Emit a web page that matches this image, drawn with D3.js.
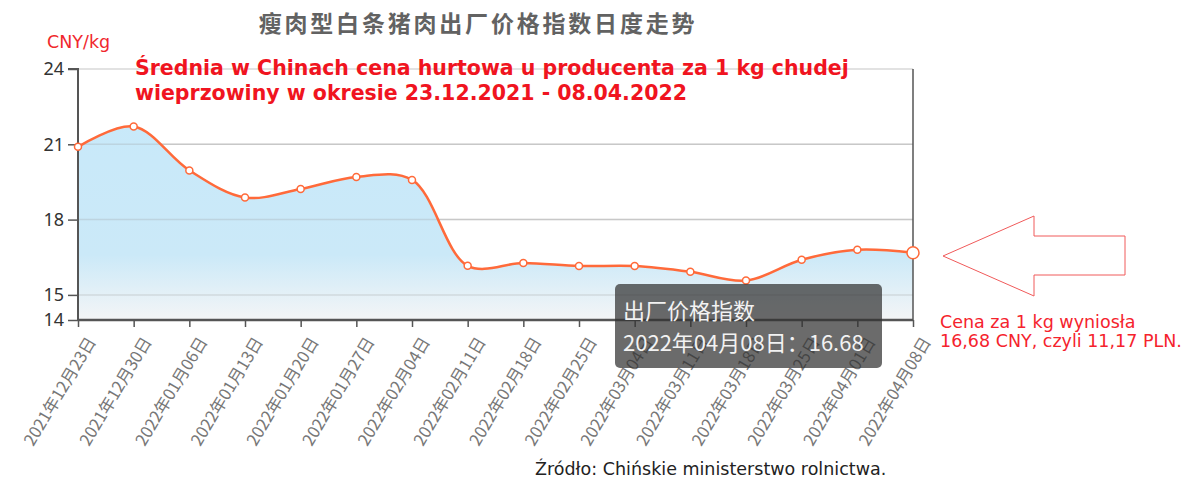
<!DOCTYPE html>
<html lang="pl">
<head>
  <meta charset="UTF-8">
  <title>瘦肉型白条猪肉出厂价格指数日度走势</title>
  <script src="https://d3js.org/d3.v7.min.js"></script>
  <style>
    body { margin: 0; background: #fff; }
    .cjk { font-family: "Noto Sans CJK SC", "Noto Sans", sans-serif; }
    .pl { font-family: "DejaVu Sans", Verdana, sans-serif; }
    .y-axis text { font-family: "Noto Sans", sans-serif; font-size: 18px; fill: #333; }
    .x-axis text { font-family: "Noto Sans CJK SC", sans-serif; font-size: 16.5px; fill: #777; }
  </style>
</head>
<body>
  <div id="chart"></div>
  <script>
    const dates = [
      "2021年12月23日", "2021年12月30日", "2022年01月06日", "2022年01月13日",
      "2022年01月20日", "2022年01月27日", "2022年02月04日", "2022年02月11日",
      "2022年02月18日", "2022年02月25日", "2022年03月04日", "2022年03月11日",
      "2022年03月18日", "2022年03月25日", "2022年04月01日", "2022年04月08日"
    ];
    const prices = [20.9, 21.71, 19.96, 18.88, 19.22, 19.7, 19.58, 16.16,
                    16.27, 16.15, 16.15, 15.92, 15.57, 16.4, 16.8, 16.68];
    const yTicks = [14, 15, 18, 21, 24];
    const gridTicks = [15, 18, 21, 24];
    const seriesName = "出厂价格指数";

    const width = 1184;
    const height = 480;
    const plotLeft = 78, plotRight = 913, plotTop = 69, plotBottom = 320;
    const lineColor = "#ff6a3a";

    const svg = d3.select("#chart")
      .append("svg")
      .attr("width", width)
      .attr("height", height);

    const x = d3.scalePoint().domain(dates).range([plotLeft, plotRight]);
    const y = d3.scaleLinear().domain([14, 24]).range([plotBottom, plotTop]);

    // area gradient
    const grad = svg.append("defs").append("linearGradient")
      .attr("id", "areaGrad")
      .attr("gradientUnits", "userSpaceOnUse")
      .attr("x1", 0).attr("x2", 0)
      .attr("y1", plotTop).attr("y2", plotBottom);
    grad.append("stop").attr("offset", "0%").attr("stop-color", "#c7e9fa");
    grad.append("stop").attr("offset", "74%").attr("stop-color", "#cbe9f8");
    grad.append("stop").attr("offset", "100%").attr("stop-color", "#f4f5f6");

    // grid
    svg.append("g")
      .selectAll("line")
      .data(gridTicks)
      .enter()
      .append("line")
      .attr("x1", plotLeft).attr("x2", plotRight)
      .attr("y1", d => y(d)).attr("y2", d => y(d))
      .attr("stroke", "#d9d9d9")
      .attr("stroke-width", 1.5);

    const curve = d3.curveCatmullRom.alpha(0.5);

    const area = d3.area()
      .x((d, i) => x(dates[i]))
      .y0(plotBottom)
      .y1(d => y(d))
      .curve(curve);

    const line = d3.line()
      .x((d, i) => x(dates[i]))
      .y(d => y(d))
      .curve(curve);

    svg.append("path")
      .datum(prices)
      .attr("d", area)
      .attr("fill", "url(#areaGrad)");

    // grid lines faintly visible through the area
    svg.append("g")
      .selectAll("line")
      .data(gridTicks.slice(0, 3))
      .enter()
      .append("line")
      .attr("x1", plotLeft).attr("x2", plotRight)
      .attr("y1", d => y(d)).attr("y2", d => y(d))
      .attr("stroke", "#999")
      .attr("stroke-opacity", 0.25)
      .attr("stroke-width", 1.5);

    // axes
    const yAxis = d3.axisLeft(y).tickValues(yTicks).tickSize(10).tickPadding(4);
    const gy = svg.append("g")
      .attr("class", "y-axis")
      .attr("transform", `translate(${plotLeft},0)`)
      .call(yAxis);
    gy.select(".domain").attr("stroke", "#555").attr("stroke-width", 2).attr("d", `M-10,${plotTop}H0V${plotBottom}`);
    gy.selectAll(".tick line").attr("stroke", "#555").attr("stroke-width", 1.5);

    svg.append("line")
      .attr("x1", plotRight).attr("x2", plotRight)
      .attr("y1", plotTop).attr("y2", plotBottom)
      .attr("stroke", "#555")
      .attr("stroke-width", 1.5);

    const xAxis = d3.axisBottom(x).tickSize(7).tickPadding(6);
    const gx = svg.append("g")
      .attr("class", "x-axis")
      .attr("transform", `translate(0,${plotBottom})`)
      .call(xAxis);
    gx.select(".domain").attr("stroke", "#555").attr("stroke-width", 2.5).attr("d", `M${plotLeft},0H${plotRight}`);
    gx.selectAll(".tick line").attr("stroke", "#555").attr("stroke-width", 1.5);
    gx.selectAll(".tick text")
      .attr("text-anchor", "end")
      .attr("dy", "0.35em")
      .attr("transform", "translate(2,12) rotate(-59)");

    // line + markers
    svg.append("path")
      .datum(prices)
      .attr("d", line)
      .attr("fill", "none")
      .attr("stroke", lineColor)
      .attr("stroke-width", 2.5);

    svg.append("g")
      .selectAll("circle")
      .data(prices)
      .enter()
      .append("circle")
      .attr("cx", (d, i) => x(dates[i]))
      .attr("cy", d => y(d))
      .attr("r", (d, i) => i === prices.length - 1 ? 6 : 3.5)
      .attr("fill", "#fff")
      .attr("stroke", lineColor)
      .attr("stroke-width", 1.5);

    // titles
    svg.append("text")
      .attr("class", "cjk")
      .attr("x", 478).attr("y", 32)
      .attr("text-anchor", "middle")
      .attr("font-size", 23)
      .attr("font-weight", "bold")
      .attr("letter-spacing", 2.8)
      .attr("fill", "#626262")
      .text("瘦肉型白条猪肉出厂价格指数日度走势");

    svg.append("text")
      .attr("class", "pl")
      .attr("x", 47).attr("y", 48)
      .attr("font-size", 17.5)
      .attr("fill", "#f0282d")
      .text("CNY/kg");

    const sub = svg.append("text")
      .attr("class", "pl")
      .attr("font-size", 20.5)
      .attr("font-weight", "bold")
      .attr("fill", "#f01420");
    sub.append("tspan").attr("x", 135).attr("y", 75)
      .text("Średnia w Chinach cena hurtowa u producenta za 1 kg chudej");
    sub.append("tspan").attr("x", 135).attr("y", 100)
      .text("wieprzowiny w okresie 23.12.2021 - 08.04.2022");

    // arrow
    const arrowPts = [[943, 256], [1034, 216], [1034, 236], [1125, 236],
                      [1125, 275], [1034, 275], [1034, 296]];
    svg.append("polygon")
      .attr("points", arrowPts.map(p => p.join(",")).join(" "))
      .attr("fill", "none")
      .attr("stroke", "#f05a5a")
      .attr("stroke-width", 1);

    const note = svg.append("text")
      .attr("class", "pl")
      .attr("font-size", 17.5)
      .attr("fill", "#f5232d");
    note.append("tspan").attr("x", 940).attr("y", 328).text("Cena za 1 kg wyniosła");
    note.append("tspan").attr("x", 940).attr("y", 347).text("16,68 CNY, czyli 11,17 PLN.");

    svg.append("text")
      .attr("class", "pl")
      .attr("x", 535).attr("y", 475)
      .attr("font-size", 17.5)
      .attr("fill", "#222")
      .text("Źródło: Chińskie ministerstwo rolnictwa.");

    // tooltip
    const last = prices.length - 1;
    const tip = svg.append("g").attr("transform", "translate(615,284)");
    tip.append("rect")
      .attr("width", 267).attr("height", 84)
      .attr("rx", 5)
      .attr("fill", "rgba(50,50,50,0.72)");
    tip.append("text")
      .attr("class", "cjk")
      .attr("x", 8).attr("y", 35)
      .attr("font-size", 22)
      .attr("fill", "#f2f2f2")
      .text(seriesName);
    tip.append("text")
      .attr("class", "cjk")
      .attr("x", 8).attr("y", 67)
      .attr("font-size", 22)
      .attr("fill", "#f2f2f2")
      .text(`${dates[last]}：${prices[last].toFixed(2)}`);
  </script>
</body>
</html>
